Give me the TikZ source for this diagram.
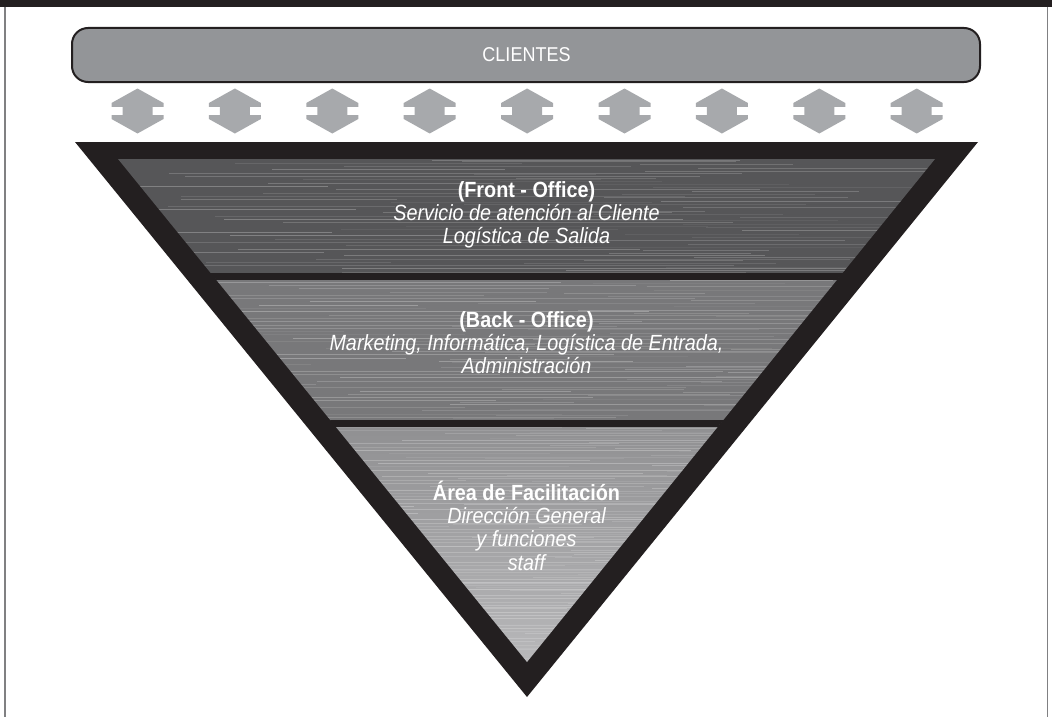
\documentclass[tikz,border=0pt]{standalone}
\usepackage{fontspec}
\setmainfont{Liberation Sans}[FakeStretch=0.9]
\definecolor{inkblack}{HTML}{231F20}
\definecolor{boxgray}{HTML}{939598}
\definecolor{arrowgray}{HTML}{A7A9AC}
\definecolor{frameline}{HTML}{808082}
\definecolor{bandone}{HTML}{565658}
\definecolor{bandtwo}{HTML}{78787A}
\definecolor{bandthreetop}{HTML}{909092}
\definecolor{bandthreebot}{HTML}{B8B8BA}
\tikzset{
  headtxt/.style={text=white, font=\fontsize{22}{24}\selectfont\bfseries, anchor=base, inner sep=0pt},
  bodytxt/.style={text=white, font=\fontsize{22}{24}\selectfont\itshape, anchor=base, inner sep=0pt},
  cltxt/.style={text=white, font=\fontsize{20}{22}\selectfont, anchor=base, inner sep=0pt},
  dblarr/.pic={
    \fill[arrowgray] (0,-22.5) -- (-26,-8) -- (-26,-4.2) -- (-15,-4.2) -- (-15,4.2) -- (-26,4.2) -- (-26,8) -- (0,22.5)
      -- (26,8) -- (26,4.2) -- (15,4.2) -- (15,-4.2) -- (26,-4.2) -- (26,-8) -- cycle;
  }
}
\begin{document}
\begin{tikzpicture}[x=1pt,y=-1pt]
\useasboundingbox (0,0) rectangle (1052,717);
% frame
\fill[inkblack] (0,0) rectangle (1052,7);
\draw[frameline, line width=1.5pt] (4.8,7) -- (4.8,717);
\draw[frameline, line width=1.5pt] (1047.3,7) -- (1047.3,717);
% clients box
\draw[fill=boxgray, draw=inkblack, line width=2pt, rounded corners=16pt] (72,28) rectangle (980,82);
\node[cltxt] (clientes) at (526.5,61.5) {CLIENTES};
% arrows
\foreach \i in {0,...,8}{
  \pgfmathsetmacro\cx{137.5+97.4*\i}
  \pic at (\cx,111) {dblarr};
}
% triangle
\fill[inkblack] (75,142) -- (978,142) -- (527,697) -- cycle;
\begin{scope}
  \clip (118,159) -- (935,159) -- (527,662) -- cycle;
  \fill[bandone] (100,159) rectangle (950,273);
  \fill[bandtwo] (100,280) rectangle (950,420);
  \shade[top color=bandthreetop, bottom color=bandthreebot] (100,427) rectangle (950,662);
  \pgfmathsetseed{11}
  \foreach \yy in {160,163.3,...,662}{
    \pgfmathsetmacro\op{0.06+0.22*rnd}
    \pgfmathsetmacro\xa{100+350*rnd}
    \pgfmathsetmacro\xb{\xa+150+450*rnd}
    \draw[white, opacity=\op, line width=0.9pt] (\xa,\yy) -- (\xb,\yy);
    \pgfmathsetmacro\opb{0.05+0.18*rnd}
    \pgfmathsetmacro\xc{450+300*rnd}
    \pgfmathsetmacro\xd{\xc+100+300*rnd}
    \draw[white, opacity=\opb, line width=0.9pt] (\xc,\yy+1.5) -- (\xd,\yy+1.5);
  }
  \fill[inkblack] (100,273) rectangle (950,280);
  \fill[inkblack] (100,420) rectangle (950,427);
\end{scope}
% texts
\node[headtxt] (front) at (526.5,197) {(Front - Office)};
\node[bodytxt] (front2) at (526.5,220) {Servicio de atención al Cliente};
\node[bodytxt] (front3) at (526.5,243) {Logística de Salida};
\node[headtxt] (back) at (526.5,327) {(Back - Office)};
\node[bodytxt] (back2) at (526.5,350) {Marketing, Informática, Logística de Entrada,};
\node[bodytxt] (back3) at (526.5,373) {Administración};
\node[headtxt] (area) at (526.5,500) {Área de Facilitación};
\node[bodytxt] (area2) at (526.5,523) {Dirección General};
\node[bodytxt] (area3) at (526.5,546) {y funciones};
\node[bodytxt] (area4) at (526.5,570) {staff};
\end{tikzpicture}
\end{document}
